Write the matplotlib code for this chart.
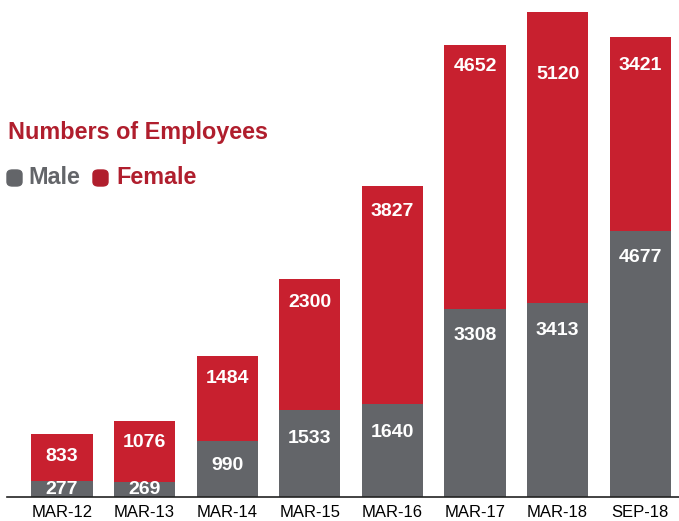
import matplotlib.pyplot as plt
from matplotlib.patches import FancyBboxPatch
import numpy as np

## data
periods = ['MAR-12', 'MAR-13', 'MAR-14', 'MAR-15', 'MAR-16', 'MAR-17', 'MAR-18', 'SEP-18']
male = [277, 269, 990, 1533, 1640, 3308, 3413, 4677]
female = [833, 1076, 1484, 2300, 3827, 4652, 5120, 3421]

## style
GREY = '#636569'
RED = '#C8202F'
DARKRED = '#B01E2D'
plt.rcParams['font.family'] = ['Liberation Sans', 'DejaVu Sans']

# label offsets below segment top, in pixels
red_off = [23, 22, 22, 23, 25, 22, 63, 29]
grey_off = [None, None, 25, 29, 29, 27, 27, 26]

fig = plt.figure(figsize=(6.79, 5.21), dpi=100)
ax = fig.add_axes([7/679, 24/521, 672/679, 497/521])

x = np.arange(len(periods))
male = np.array(male)
female = np.array(female)
ax.bar(x, male, width=0.74, color=GREY, zorder=2)
ax.bar(x, female, width=0.74, bottom=male, color=RED, zorder=2)

ax.set_xlim(-0.666, 7.47)
ax.set_ylim(0, 8533*497/485)

for i in range(len(x)):
    top = male[i]+female[i]
    ax.annotate(str(female[i]), (x[i], top), xytext=(0, -red_off[i]*0.72),
                textcoords='offset points', ha='center', va='center',
                color='white', fontsize=14, fontweight='bold')
    if grey_off[i] is None:
        ax.text(x[i], male[i]/2, str(male[i]), ha='center', va='center',
                color='white', fontsize=14, fontweight='bold')
    else:
        ax.annotate(str(male[i]), (x[i], male[i]), xytext=(0, -grey_off[i]*0.72),
                    textcoords='offset points', ha='center', va='center',
                    color='white', fontsize=14, fontweight='bold')

for s in ['top', 'right', 'left']:
    ax.spines[s].set_visible(False)
ax.spines['bottom'].set_color('#222222')
ax.spines['bottom'].set_linewidth(1.2)
ax.set_yticks([])
ax.set_xticks(x)
ax.set_xticklabels(periods, fontsize=12)
ax.tick_params(axis='x', length=0, pad=6)

# title and legend
fig.text(8/679, 1-133/521, 'Numbers of Employees', color=DARKRED, fontsize=16.8,
         fontweight='bold', va='center', ha='left')
for xm, col, lab, xt in [(7, GREY, 'Male', 28), (93, DARKRED, 'Female', 116)]:
    box = FancyBboxPatch((xm/679, 1-186/521), 15/679, 16/521,
                         boxstyle='round,pad=0,rounding_size=0.008',
                         transform=fig.transFigure, color=col)
    fig.patches.append(box)
    fig.text(xt/679, 1-178/521, lab, color=col, fontsize=16.8,
             fontweight='bold', va='center', ha='left')

plt.savefig('out.png', dpi=100)
